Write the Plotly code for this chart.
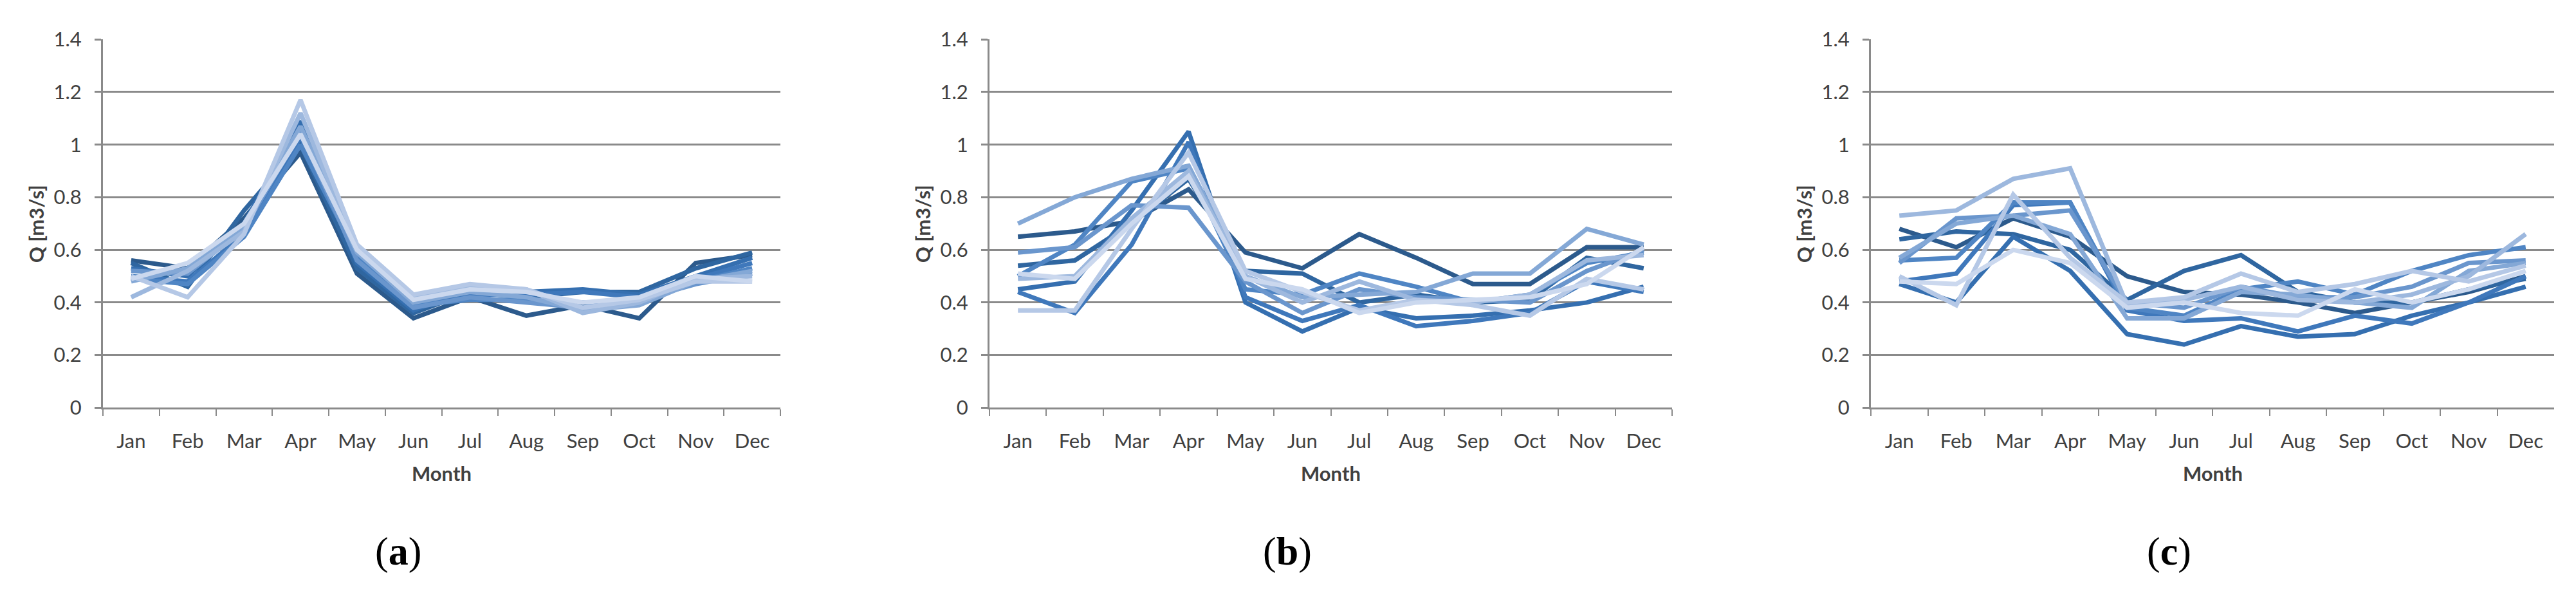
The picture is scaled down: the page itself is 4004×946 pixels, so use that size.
import plotly.graph_objects as go

months = ["Jan", "Feb", "Mar", "Apr", "May", "Jun", "Jul", "Aug", "Sep", "Oct", "Nov", "Dec"]
y_ticks = [0, 0.2, 0.4, 0.6, 0.8, 1.0, 1.2, 1.4]
y_tick_labels = ["0", "0.2", "0.4", "0.6", "0.8", "1", "1.2", "1.4"]
panel_labels = ["a", "b", "c"]

# Panel (a)
a1 = [0.56, 0.53, 0.72, 0.97, 0.51, 0.34, 0.42, 0.35, 0.39, 0.34, 0.55, 0.58]
a2 = [0.55, 0.46, 0.75, 1.00, 0.53, 0.36, 0.44, 0.42, 0.44, 0.44, 0.53, 0.59]
a3 = [0.53, 0.50, 0.70, 1.09, 0.55, 0.37, 0.45, 0.44, 0.45, 0.43, 0.50, 0.57]
a4 = [0.50, 0.48, 0.66, 1.03, 0.57, 0.38, 0.43, 0.43, 0.44, 0.42, 0.49, 0.55]
a5 = [0.49, 0.47, 0.65, 1.00, 0.58, 0.39, 0.41, 0.41, 0.40, 0.40, 0.48, 0.53]
a6 = [0.52, 0.51, 0.68, 1.05, 0.56, 0.38, 0.42, 0.40, 0.38, 0.41, 0.47, 0.51]
a7 = [0.48, 0.53, 0.69, 1.07, 0.59, 0.40, 0.44, 0.42, 0.37, 0.39, 0.48, 0.52]
a8 = [0.42, 0.52, 0.67, 1.12, 0.60, 0.42, 0.46, 0.45, 0.36, 0.40, 0.49, 0.50]
a9 = [0.50, 0.42, 0.66, 1.17, 0.62, 0.43, 0.47, 0.45, 0.38, 0.41, 0.48, 0.48]
a10 = [0.49, 0.55, 0.70, 1.04, 0.60, 0.41, 0.45, 0.44, 0.40, 0.42, 0.50, 0.48]

# Panel (b)
b1 = [0.65, 0.67, 0.71, 0.83, 0.59, 0.53, 0.66, 0.57, 0.47, 0.47, 0.61, 0.61]
b2 = [0.54, 0.56, 0.70, 0.87, 0.52, 0.51, 0.40, 0.43, 0.40, 0.41, 0.57, 0.53]
b3 = [0.45, 0.48, 0.75, 1.05, 0.40, 0.29, 0.38, 0.34, 0.35, 0.37, 0.40, 0.46]
b4 = [0.44, 0.36, 0.62, 1.01, 0.42, 0.33, 0.39, 0.31, 0.33, 0.36, 0.48, 0.44]
b5 = [0.50, 0.62, 0.86, 0.91, 0.45, 0.43, 0.51, 0.46, 0.40, 0.43, 0.55, 0.59]
b6 = [0.59, 0.61, 0.77, 0.76, 0.48, 0.36, 0.45, 0.42, 0.41, 0.40, 0.52, 0.60]
b7 = [0.70, 0.80, 0.87, 0.92, 0.50, 0.42, 0.43, 0.44, 0.51, 0.51, 0.68, 0.62]
b8 = [0.49, 0.50, 0.72, 0.90, 0.50, 0.40, 0.48, 0.41, 0.40, 0.43, 0.56, 0.58]
b9 = [0.37, 0.37, 0.68, 0.97, 0.52, 0.44, 0.37, 0.41, 0.39, 0.35, 0.49, 0.45]
b10 = [0.51, 0.49, 0.70, 0.88, 0.49, 0.45, 0.36, 0.40, 0.41, 0.42, 0.47, 0.61]

# Panel (c)
c1 = [0.68, 0.61, 0.72, 0.65, 0.50, 0.44, 0.43, 0.40, 0.36, 0.40, 0.44, 0.50]
c2 = [0.64, 0.67, 0.66, 0.60, 0.41, 0.52, 0.58, 0.44, 0.40, 0.40, 0.45, 0.49]
c3 = [0.47, 0.40, 0.65, 0.52, 0.28, 0.24, 0.31, 0.27, 0.28, 0.35, 0.40, 0.46]
c4 = [0.48, 0.51, 0.77, 0.78, 0.37, 0.33, 0.34, 0.29, 0.35, 0.32, 0.40, 0.50]
c5 = [0.56, 0.57, 0.78, 0.78, 0.38, 0.35, 0.45, 0.48, 0.43, 0.52, 0.58, 0.61]
c6 = [0.55, 0.72, 0.73, 0.75, 0.40, 0.38, 0.46, 0.42, 0.42, 0.46, 0.55, 0.56]
c7 = [0.57, 0.70, 0.73, 0.66, 0.34, 0.34, 0.44, 0.43, 0.40, 0.38, 0.52, 0.55]
c8 = [0.73, 0.75, 0.87, 0.91, 0.39, 0.41, 0.46, 0.41, 0.40, 0.43, 0.50, 0.66]
c9 = [0.50, 0.39, 0.81, 0.57, 0.40, 0.42, 0.51, 0.44, 0.47, 0.52, 0.48, 0.54]
c10 = [0.48, 0.47, 0.60, 0.55, 0.38, 0.40, 0.36, 0.35, 0.45, 0.40, 0.45, 0.52]

panels = [
    [a1, a2, a3, a4, a5, a6, a7, a8, a9, a10],
    [b1, b2, b3, b4, b5, b6, b7, b8, b9, b10],
    [c1, c2, c3, c4, c5, c6, c7, c8, c9, c10],
]

line_colors = ["#2c5a8c", "#2f66a0", "#356fb0", "#3f78bb", "#4f85c4",
               "#6a96cd", "#84a8d6", "#9db8de", "#b5c8e6", "#cbd8ee"]

W, H = 4004, 946
# plot areas in pixels (left, right)
x_px = [(160, 1213), (1538, 2599), (2908, 3970)]
y_top_px, y_bot_px = 43, 639

GRID = "#8a8a8a"
TXT = "#404040"
FONT = "Lato, 'Open Sans', sans-serif"

fig = go.Figure()
annotations = []
for i, series in enumerate(panels):
    xa = "x" if i == 0 else f"x{i+1}"
    ya = "y" if i == 0 else f"y{i+1}"
    for j, vals in enumerate(series):
        fig.add_trace(go.Scatter(
            x=months, y=vals, mode="lines", xaxis=xa, yaxis=ya,
            line=dict(color=line_colors[j], width=7), showlegend=False,
            hoverinfo="skip"))
    l, r = x_px[i]
    dom_x = [l / W, r / W]
    dom_y = [1 - y_bot_px / H, 1 - y_top_px / H]
    key = "" if i == 0 else str(i + 1)
    fig.layout["xaxis" + key] = dict(
        domain=dom_x, anchor=ya, type="category", range=[-0.5, 11.5],
        categoryorder="array", categoryarray=months,
        tickson="boundaries", ticks="outside", ticklen=10, tickwidth=2,
        tickcolor=GRID, showline=True, linecolor=GRID, linewidth=3,
        showgrid=False, ticklabelstandoff=22,
        tickfont=dict(family=FONT, size=31, color=TXT), fixedrange=True)
    fig.layout["yaxis" + key] = dict(
        domain=dom_y, anchor=xa, range=[0, 1.4], tickvals=y_ticks,
        ticktext=y_tick_labels, showgrid=True, gridcolor=GRID, gridwidth=3,
        zeroline=False, showline=True, linecolor=GRID, linewidth=3,
        ticks="outside", ticklen=10, tickwidth=3, tickcolor=GRID,
        ticklabelstandoff=14,
        tickfont=dict(family=FONT, size=31, color=TXT), fixedrange=True)
    cx = (l + r) / 2
    annotations.append(dict(
        text="<b>Month</b>", x=cx / W, y=1 - 745 / H, xref="paper", yref="paper",
        showarrow=False, xanchor="center", yanchor="middle",
        font=dict(family=FONT, size=31, color=TXT)))
    annotations.append(dict(
        text="<b>Q [m3/s]</b>", x=(l - 104) / W, y=1 - 342 / H, xref="paper",
        yref="paper", showarrow=False, textangle=-90, xanchor="center",
        yanchor="middle", font=dict(family=FONT, size=31, color=TXT)))
    annotations.append(dict(
        text=f"(<b>{panel_labels[i]}</b>)", x=(cx - 68) / W, y=1 - 872 / H,
        xref="paper", yref="paper", showarrow=False, xanchor="center",
        yanchor="middle",
        font=dict(family="'Liberation Serif', serif", size=62, color="#000000")))

fig.update_layout(
    width=W, height=H, margin=dict(l=0, r=0, t=0, b=0),
    paper_bgcolor="white", plot_bgcolor="white",
    annotations=annotations)

fig.write_html("out.html", config={"displayModeBar": False})
